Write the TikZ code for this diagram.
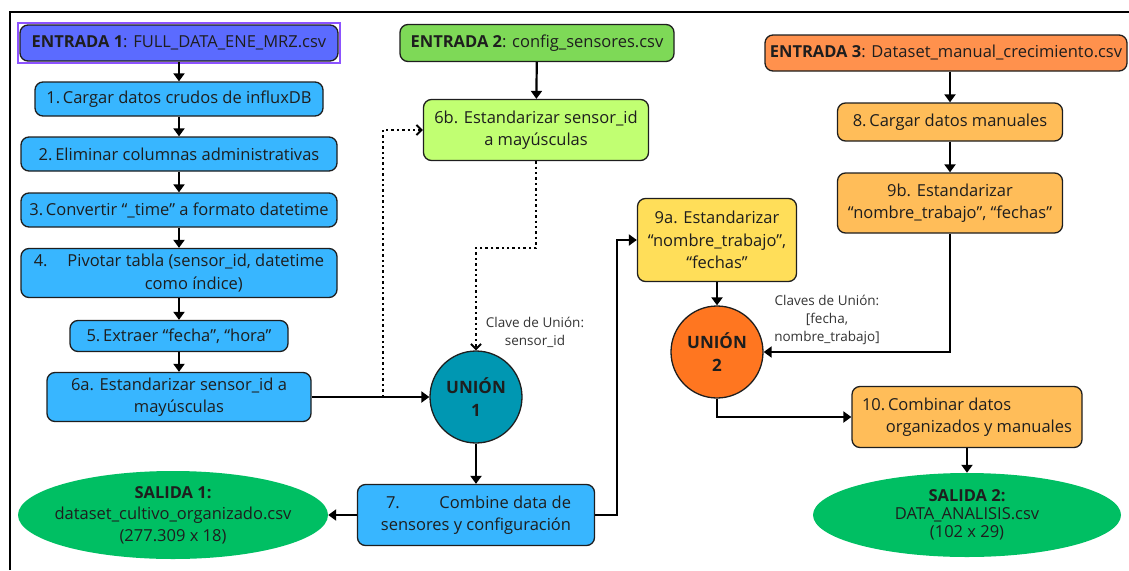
\documentclass[tikz,border=0pt]{standalone}
\usepackage{fontspec}
\setmainfont{Open Sans}
\usetikzlibrary{arrows.meta,shapes.geometric,calc}
\definecolor{cE1}{HTML}{5B6BFF}
\definecolor{cSel}{HTML}{8C52FF}
\definecolor{cBlue}{HTML}{38B6FF}
\definecolor{cE2}{HTML}{7ED957}
\definecolor{cLime}{HTML}{C1FF72}
\definecolor{cYel}{HTML}{FFDE59}
\definecolor{cE3}{HTML}{FF914D}
\definecolor{cPeach}{HTML}{FFBD59}
\definecolor{cTeal}{HTML}{0097B2}
\definecolor{cOrg}{HTML}{FF7620}
\definecolor{cOut}{HTML}{00BF63}
\definecolor{cTxt}{HTML}{1E1E1E}
\newcommand\fsmain{\fontsize{16.5}{22.5}\selectfont}
\newcommand\fssmall{\fontsize{13.5}{18}\selectfont}
\tikzset{
  box/.style={draw=cTxt, line width=1.3pt, rounded corners=8pt, inner sep=0pt,
    align=center, text=cTxt, font=\fsmain},
  union/.style={circle, draw=cTxt, line width=1.3pt, minimum size=92pt, inner sep=0pt,
    align=center, text=cTxt, font=\fontsize{17}{23}\selectfont\bfseries},
  outell/.style={ellipse, fill=cOut, inner xsep=-60pt, inner ysep=-20pt, align=center, text=cTxt},
  arr/.style={line width=2.2pt, -{Triangle[length=8pt,width=11pt]}},
  dotarr/.style={line width=2.4pt, dash pattern=on 2.4pt off 3pt,
    -{Straight Barb[length=5pt,width=10pt,line width=2pt]}},
  lbl/.style={align=center, text=black!80, font=\fssmall},
}
\begin{document}
\begin{tikzpicture}[x=1pt,y=-1pt]
\useasboundingbox (0,0) rectangle (1129,570);
\draw[line width=2pt] (10,570) -- (10,12) -- (1129,12);

% column 1
\node[box, fill=cE1, minimum width=318pt, minimum height=36pt] (E1) at (179,43)
  {\textbf{ENTRADA 1}: FULL\_DATA\_ENE\_MRZ.csv};
\draw[cSel, line width=1.8pt] ($(E1.south west)+(-1,1)$) rectangle ($(E1.north east)+(1,-1)$);
\node[box, fill=cBlue, minimum width=288pt, minimum height=34pt] (B1) at (179,99)
  {1.\,Cargar datos crudos de influxDB};
\node[box, fill=cBlue, minimum width=316pt, minimum height=34pt] (B2) at (179,154)
  {2.\,Eliminar columnas administrativas};
\node[box, fill=cBlue, minimum width=316pt, minimum height=34pt] (B3) at (179,210)
  {3.\,Convertir “\_time” a formato datetime};
\node[box, fill=cBlue, minimum width=316pt, minimum height=49pt] (B4) at (179,273)
  {4.\hspace{1.2em}Pivotar tabla (sensor\_id, datetime\\\hspace*{1.8em}como índice)};
\node[box, fill=cBlue, minimum width=218pt, minimum height=31pt] (B5) at (179,336)
  {5.\,Extraer “fecha”, “hora”};
\node[box, fill=cBlue, minimum width=264pt, minimum height=49pt] (B6a) at (179,397)
  {6a. Estandarizar sensor\_id a\\mayúsculas};

% column 2
\node[box, fill=cE2, minimum width=274pt, minimum height=37pt] (E2) at (537,43)
  {\textbf{ENTRADA 2}: config\_sensores.csv};
\node[box, fill=cLime, minimum width=225pt, minimum height=61pt] (B6b) at (536,130)
  {6b. Estandarizar sensor\_id\\a mayúsculas};
\node[union, fill=cTeal] (U1) at (476,397) {UNIÓN\\1};
\node[box, fill=cBlue, minimum width=237pt, minimum height=61pt, align=right] (B7) at (476,515)
  {7.\hspace{2.4em}Combine data de\\sensores y configuración};
\node[outell, minimum width=310pt, minimum height=88pt, font=\fontsize{16.5}{21.5}\selectfont] (S1) at (173,515)
  {\textbf{SALIDA 1:}\\dataset\_cultivo\_organizado.csv\\(277.309 x 18)};
\node[lbl] (L1) at (535,332) {Clave de Unión:\\sensor\_id};

% column 3
\node[box, fill=cYel, minimum width=159pt, minimum height=83pt] (B9a) at (717,240)
  {9a. Estandarizar\\“nombre\_trabajo”,\\“fechas”};
\node[union, fill=cOrg] (U2) at (717,352) {UNIÓN\\2};
\node[lbl] (L2) at (827,320) {Claves de Unión:\\{}[fecha,\\nombre\_trabajo]};

% column 4
\node[box, fill=cE3, minimum width=362pt, minimum height=36pt] (E3) at (946,53)
  {\textbf{ENTRADA 3}: Dataset\_manual\_crecimiento.csv};
\node[box, fill=cPeach, minimum width=225pt, minimum height=38pt] (B8) at (950,122)
  {8.\,Cargar datos manuales};
\node[box, fill=cPeach, minimum width=225pt, minimum height=60pt] (B9b) at (950,203)
  {9b. Estandarizar\\“nombre\_trabajo”, “fechas”};
\node[box, fill=cPeach, minimum width=230pt, minimum height=61pt, align=left] (B10) at (967,417)
  {10.\,Combinar datos\\\hspace*{1.45em}organizados y manuales};
\node[outell, minimum width=308pt, minimum height=84pt, font=\fontsize{16.5}{18}\selectfont] (S2) at (967,515)
  {\textbf{SALIDA 2:}\\DATA\_ANALISIS.csv\\(102 x 29)};

% connectors column 1
\draw[arr] (E1) -- (B1);
\draw[arr] (B1) -- (B2);
\draw[arr] (B2) -- (B3);
\draw[arr] (B3) -- (B4);
\draw[arr] (B4) -- (B5);
\draw[arr] (B5) -- (B6a);
\draw[arr] (B6a) -- (U1);
\coordinate (d1) at (383,397);
\draw[dotarr] (d1) |- (B6b.west);
% column 2
\draw[arr] (E2) -- (B6b);
\coordinate (d2) at (536,248);
\draw[dotarr] (B6b.south) -- (d2) -| (U1.north);
\draw[arr] (U1) -- (B7);
\draw[arr] (B7) -- (S1);
\coordinate (c7) at (617,515);
\draw[arr] (B7.east) -- (c7) |- (B9a.west);
% column 3/4
\draw[arr] (B9a) -- (U2);
\draw[arr] (E3.south -| B8.north) -- (B8.north);
\draw[arr] (B8) -- (B9b);
\draw[arr] (B9b.south) |- (U2.east);
\draw[arr] (U2.south) |- (B10.west);
\draw[arr] (B10) -- (S2);
\end{tikzpicture}
\end{document}
